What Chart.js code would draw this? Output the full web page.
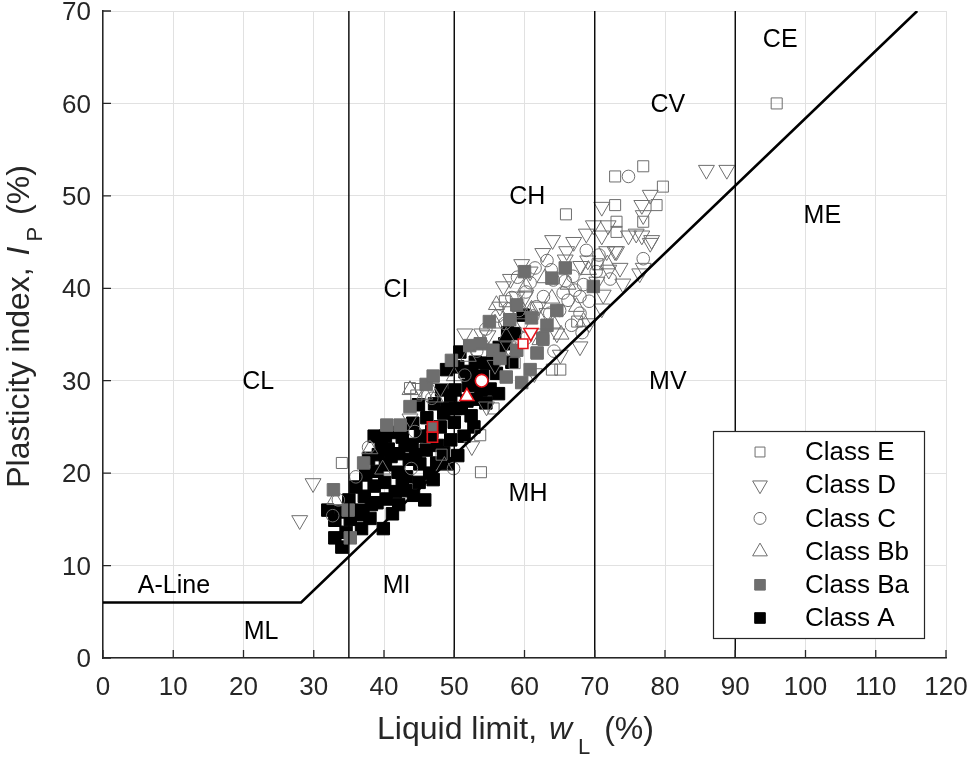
<!DOCTYPE html>
<html>
<head>
<meta charset="utf-8">
<script src="https://cdn.jsdelivr.net/npm/chart.js@4.4.0/dist/chart.umd.min.js"></script>
<style>
html, body { margin: 0; padding: 0; background: #fff; }
#wrap { position: relative; width: 969px; height: 758px; }
</style>
</head>
<body>
<div id="wrap"><canvas id="chart"></canvas></div>
<script>
// Plasticity chart: liquid limit (x) vs plasticity index (y)
const xTicks = [0, 10, 20, 30, 40, 50, 60, 70, 80, 90, 100, 110, 120];
const yTicks = [0, 10, 20, 30, 40, 50, 60, 70];

// Class E (open squares)
const classE_LL = [34.0, 43.7, 53.8, 53.7, 55.6, 61.7, 58.6, 63.9, 65.1, 65.9, 72.9, 76.9, 79.7, 72.9, 78.8, 73.1, 76.9, 73.1, 95.9, 62.7, 67.5, 70.4, 57.2, 48.2, 44.6];
const classE_PI = [21.1, 29.2, 20.1, 24.1, 27.0, 33.0, 31.9, 31.2, 31.2, 48.0, 52.1, 53.2, 51.0, 49.0, 49.0, 47.2, 47.2, 46.1, 60.0, 34.4, 36.4, 42.6, 38.6, 22.0, 28.4];

// Class D (open down triangles)
const classD_LL = [28.0, 29.9, 43.7, 45.1, 48.0, 51.5, 53.9, 54.8, 56.5, 55.8, 57.7, 58.9, 60.1, 60.8, 62.0, 62.4, 63.2, 64.6, 65.1, 67.9, 66.0, 65.8, 68.8, 69.8, 71.0, 71.0, 71.9, 71.7, 73.1, 74.8, 76.7, 77.9, 76.7, 77.9, 76.9, 76.4, 70.3, 71.2, 71.0, 85.9, 88.8, 52.5, 54.6, 72.9, 75.9, 78.1, 76.9, 59.8, 69.2, 68.0, 73.6, 61.4, 57.0, 58.0, 59.6, 62.6, 64.0, 67.0, 69.0, 72.0, 74.0];
const classD_PI = [14.9, 18.9, 25.9, 29.2, 29.2, 35.1, 35.1, 34.9, 38.0, 31.7, 33.7, 39.1, 39.1, 41.8, 38.0, 35.1, 37.3, 35.1, 32.8, 33.7, 44.0, 43.1, 45.9, 46.8, 48.8, 45.7, 46.8, 44.0, 44.0, 45.7, 45.7, 44.9, 49.0, 50.1, 47.9, 41.6, 40.7, 39.3, 37.8, 52.8, 52.8, 22.9, 27.2, 44.0, 45.9, 45.2, 42.2, 36.2, 36.2, 42.4, 42.2, 30.8, 40.2, 41.0, 42.6, 43.8, 45.2, 45.0, 43.0, 42.0, 40.5];

// Class C (open circles)
const classC_LL = [32.7, 33.5, 36.0, 37.8, 43.9, 44.4, 46.8, 49.9, 51.5, 53.2, 54.5, 56.2, 57.2, 58.2, 59.2, 60.2, 61.2, 61.7, 62.7, 63.6, 64.1, 65.5, 66.2, 66.7, 66.9, 67.2, 67.9, 67.9, 68.8, 61.5, 63.2, 60.2, 64.2, 68.2, 74.8, 76.9, 69.2, 65.0, 59.0, 70.6, 72.2, 57.8, 60.8, 63.8, 65.8, 68.4, 70.2];
const classC_PI = [15.4, 17.1, 19.6, 22.8, 20.5, 24.5, 28.1, 20.5, 30.6, 33.2, 35.6, 37.0, 36.2, 39.0, 37.6, 39.6, 37.0, 38.0, 39.1, 37.3, 40.9, 39.5, 38.7, 36.0, 41.3, 39.8, 39.1, 37.3, 44.1, 42.2, 43.0, 34.6, 33.2, 35.2, 52.1, 43.2, 38.6, 37.6, 41.2, 43.6, 41.0, 37.8, 40.6, 42.0, 40.8, 40.4, 41.8];

// Class Bb (open up triangles)
const classBb_LL = [33.0, 38.0, 43.7, 45.8, 47.3, 50.0, 52.0, 55.8, 56.0, 57.4, 59.4, 61.0, 62.9, 63.9, 64.1, 67.4, 69.1, 66.2, 60.2, 58.2, 65.2, 62.2, 54.2, 48.6, 68.4, 71.8, 39.8];
const classBb_PI = [17.1, 22.6, 29.0, 28.5, 28.2, 30.5, 32.6, 36.2, 38.2, 34.8, 38.0, 37.7, 41.1, 38.9, 36.2, 38.0, 42.0, 40.4, 40.2, 33.2, 35.0, 34.4, 34.0, 20.8, 36.4, 42.6, 20.4];

// Class Ba (grey filled squares)
const classBa_LL = [32.8, 35.2, 34.9, 37.1, 40.4, 42.3, 43.7, 46.0, 47.0, 49.6, 52.2, 53.7, 55.5, 56.5, 57.9, 58.9, 58.9, 60.8, 59.6, 61.8, 61.0, 63.2, 64.6, 63.9, 65.8, 69.8, 60.0, 57.4, 62.6, 55.0];
const classBa_PI = [18.2, 13.0, 16.0, 21.1, 25.2, 25.2, 27.2, 29.6, 30.5, 32.2, 33.8, 34.0, 33.3, 32.4, 36.6, 33.3, 38.2, 31.2, 29.8, 33.0, 36.8, 36.0, 37.6, 41.1, 42.2, 40.2, 41.8, 30.4, 34.6, 36.4];

// Class A (black filled squares)
const classA_LL = [32.0, 33.0, 33.0, 34.0, 33.8, 35.0, 35.2, 36.5, 36.8, 38.0, 39.9, 36.0, 37.2, 38.2, 38.6, 37.4, 39.0, 37.8, 39.2, 38.6, 40.2, 41.2, 40.6, 40.2, 40.1, 40.3, 41.2, 41.6, 42.1, 42.0, 42.1, 42.6, 43.1, 43.2, 43.6, 44.0, 44.1, 44.2, 45.0, 45.1, 45.2, 45.8, 46.0, 46.1, 46.5, 47.2, 47.5, 47.6, 48.0, 48.2, 48.5, 49.0, 48.9, 49.5, 50.0, 50.1, 50.5, 50.8, 51.0, 51.5, 51.4, 52.0, 52.4, 52.8, 53.0, 53.1, 54.0, 54.6, 54.5, 55.1, 55.5, 56.0, 56.3, 56.4, 57.2, 57.6, 58.6, 59.8, 58.2, 49.5, 46.8, 44.9, 53.5, 50.5, 34.6, 37.0, 39.0, 41.0, 43.0, 44.5, 46.5, 48.5, 47.0, 49.0, 51.8, 53.8, 52.5, 50.2, 39.6, 42.6];
const classA_PI = [16.0, 14.9, 13.0, 12.0, 15.8, 17.1, 15.0, 16.0, 14.0, 15.1, 14.0, 18.5, 17.5, 16.6, 18.6, 19.8, 20.2, 21.6, 22.0, 24.0, 24.0, 24.4, 22.6, 20.9, 19.0, 17.2, 15.6, 18.0, 16.6, 20.1, 22.1, 23.9, 18.1, 19.6, 21.5, 23.1, 25.4, 17.6, 19.0, 21.0, 24.0, 17.1, 22.5, 26.0, 20.0, 27.5, 21.1, 23.0, 25.0, 29.0, 22.2, 27.0, 31.2, 23.6, 25.5, 29.0, 21.9, 33.1, 27.0, 31.0, 24.0, 29.5, 26.2, 25.0, 32.0, 28.0, 30.5, 31.9, 27.6, 29.1, 32.1, 30.8, 28.6, 33.6, 34.0, 35.2, 35.1, 37.1, 32.0, 28.4, 24.5, 27.4, 30.0, 31.5, 13.6, 15.5, 16.8, 21.8, 23.0, 22.0, 24.0, 26.5, 19.3, 21.0, 27.8, 29.0, 30.8, 27.0, 23.2, 19.0];

// class means, order: E, D, C, Bb, Ba, A
const meanLL = [59.8, 60.9, 53.9, 51.8, 46.9, 46.9];
const meanPI = [34.0, 35.2, 30.0, 28.3, 25.0, 23.9];

// A-line and vertical zone boundaries
const aLineLL = [0, 28.2, 115.9];
const aLinePI = [6, 6, 70];
const boundLL = [35, 50, 70, 90];

// zone labels
const zoneNames = ['CL', 'CI', 'CH', 'CV', 'CE', 'ML', 'MI', 'MH', 'MV', 'ME', 'A-Line'];
const zoneLL = [22.1, 41.7, 60.4, 80.4, 96.4, 22.5, 41.8, 60.5, 80.4, 102.4, 10.1];
const zonePI = [29.8, 39.8, 49.9, 59.8, 66.8, 2.8, 7.8, 17.7, 29.8, 47.8, 7.8];

const FONT = '"Liberation Sans", Arial, Helvetica, sans-serif';
const GREY = '#6e6e6e';
const RED = '#e5131b';
const AXIS = '#262626';

Chart.defaults.font.family = FONT;

const pts = (ll, pi) => ll.map((v, i) => ({ x: v, y: pi[i] }));

function markerSet(label, ll, pi, style, opts) {
    return Object.assign({
        type: 'scatter',
        label: label,
        data: pts(ll, pi),
        pointStyle: style,
        pointRadius: 8,
        pointBorderWidth: 1,
        borderColor: GREY,
        backgroundColor: 'rgba(0,0,0,0)',
        pointRotation: 0
    }, opts);
}

const datasets = [
    markerSet('Class E', classE_LL, classE_PI, 'rect', { pointRadius: 7.8, legendRadius: 7, order: 2 }),
    markerSet('Class D', classD_LL, classD_PI, 'triangle', { pointRadius: 9.2, pointRotation: 180, legendRadius: 8.5, order: 3 }),
    markerSet('Class C', classC_LL, classC_PI, 'circle', { pointRadius: 6.3, legendRadius: 6, order: 4 }),
    markerSet('Class Bb', classBb_LL, classBb_PI, 'triangle', { pointRadius: 9.2, legendRadius: 8.5, order: 5 }),
    markerSet('Class Ba', classBa_LL, classBa_PI, 'rect', { pointRadius: 8.8, backgroundColor: GREY, legendRadius: 7.5, order: 6 }),
    markerSet('Class A', classA_LL, classA_PI, 'rect', { pointRadius: 8.8, backgroundColor: '#000', borderColor: '#000', legendRadius: 7.5, order: 7 })
];

// mean markers with red edges
const meanStyles = [
    { s: 'rect', r: 6.8, rot: 0, fill: '#fff' },
    { s: 'triangle', r: 8.2, rot: 180, fill: '#fff' },
    { s: 'circle', r: 6.3, rot: 0, fill: '#fff' },
    { s: 'triangle', r: 8.0, rot: 0, fill: '#fff' },
    { s: 'rect', r: 7.3, rot: 0, fill: GREY },
    { s: 'rect', r: 7.3, rot: 0, fill: '#000' }
];
meanLL.forEach((v, i) => {
    const m = meanStyles[i];
    datasets.push({
        type: 'scatter',
        label: 'mean' + i,
        data: [{ x: v, y: meanPI[i] }],
        pointStyle: m.s,
        pointRadius: m.r,
        pointRotation: m.rot,
        pointBorderWidth: 1.6,
        borderColor: RED,
        backgroundColor: m.fill,
        order: 0
    });
});

// A-line
datasets.push({
    type: 'scatter',
    label: 'A-line',
    data: pts(aLineLL, aLinePI),
    showLine: true,
    pointRadius: 0,
    borderColor: '#000',
    borderWidth: 2.6,
    order: 1
});

// vertical boundaries
boundLL.forEach(v => {
    datasets.push({
        type: 'scatter',
        label: 'LL ' + v,
        data: [{ x: v, y: yTicks[0] }, { x: v, y: yTicks[yTicks.length - 1] }],
        showLine: true,
        pointRadius: 0,
        borderColor: '#000',
        borderWidth: 1.4,
        order: 1
    });
});

function drawRuns(ctx, runs) {
    let pos = 0;
    runs.forEach(r => {
        ctx.font = r.font;
        pos += r.gap || 0;
        ctx.fillText(r.text, pos, r.dy || 0);
        pos += ctx.measureText(r.text).width;
    });
    return pos;
}

function runsWidth(ctx, runs) {
    let w = 0;
    runs.forEach(r => { ctx.font = r.font; w += (r.gap || 0) + ctx.measureText(r.text).width; });
    return w;
}

const overlay = {
    id: 'overlay',
    afterDraw(chart) {
        const { ctx, chartArea: a, scales: { x, y } } = chart;
        ctx.save();

        // inward tick marks
        ctx.strokeStyle = AXIS;
        ctx.lineWidth = 1.3;
        ctx.beginPath();
        x.ticks.forEach(t => {
            const px = x.getPixelForValue(t.value);
            ctx.moveTo(px, a.bottom);
            ctx.lineTo(px, a.bottom - 8);
        });
        y.ticks.forEach(t => {
            const py = y.getPixelForValue(t.value);
            ctx.moveTo(a.left, py);
            ctx.lineTo(a.left + 8, py);
        });
        ctx.stroke();

        // zone labels
        ctx.fillStyle = '#000';
        ctx.font = '25px ' + FONT;
        ctx.textAlign = 'center';
        ctx.textBaseline = 'middle';
        zoneNames.forEach((n, i) => {
            ctx.fillText(n, x.getPixelForValue(zoneLL[i]), y.getPixelForValue(zonePI[i]));
        });

        // axis titles
        ctx.fillStyle = AXIS;
        ctx.textAlign = 'left';
        ctx.textBaseline = 'alphabetic';
        const big = '32px ' + FONT;
        const bigIt = 'italic 32px ' + FONT;
        const sub = '22px ' + FONT;
        const xRuns = [
            { text: 'Liquid limit, ', font: big },
            { text: 'w', font: bigIt, gap: 3 },
            { text: 'L', font: sub, dy: 15, gap: 6 },
            { text: ' (%)', font: big, gap: 5 }
        ];
        const xw = runsWidth(ctx, xRuns);
        ctx.save();
        ctx.translate((a.left + a.right) / 2 - 9 - xw / 2, 739);
        drawRuns(ctx, xRuns);
        ctx.restore();

        const yRuns = [
            { text: 'Plasticity index, ', font: big },
            { text: 'I', font: bigIt, gap: 3 },
            { text: 'P', font: sub, dy: 13, gap: 5 },
            { text: ' (%)', font: big, gap: 3 }
        ];
        const yw = runsWidth(ctx, yRuns);
        ctx.save();
        ctx.translate(29, (a.top + a.bottom) / 2 + yw / 2 - 8);
        ctx.rotate(-Math.PI / 2);
        drawRuns(ctx, yRuns);
        ctx.restore();

        // legend box
        const bx = a.right - 233, by = a.bottom - 227, bw = 211, bh = 207;
        ctx.fillStyle = '#fff';
        ctx.fillRect(bx, by, bw, bh);
        ctx.strokeStyle = AXIS;
        ctx.lineWidth = 1.2;
        ctx.strokeRect(bx + 0.5, by + 0.5, bw, bh);
        ctx.font = '26px ' + FONT;
        ctx.textBaseline = 'middle';
        chart.data.datasets.filter(d => d.legendRadius).forEach((d, i) => {
            const cy = by + 21 + i * 33.2;
            ctx.fillStyle = d.backgroundColor;
            ctx.strokeStyle = d.borderColor;
            ctx.lineWidth = 1;
            ctx.beginPath();
            Chart.helpers.drawPoint(ctx, {
                pointStyle: d.pointStyle,
                rotation: d.pointRotation || 0,
                radius: d.legendRadius,
                borderWidth: 1
            }, bx + 47, cy);
            ctx.fillStyle = '#000';
            ctx.fillText(d.label, bx + 92, cy + 1);
        });

        ctx.restore();
    }
};

new Chart(document.getElementById('chart'), {
    type: 'scatter',
    data: { datasets: datasets },
    options: {
        responsive: true,
        maintainAspectRatio: false,
        animation: false,
        devicePixelRatio: 1,
        layout: { padding: { top: 11, right: 23, left: 0, bottom: 0 } },
        plugins: {
            legend: { display: false },
            tooltip: { enabled: false }
        },
        scales: {
            x: {
                type: 'linear',
                min: xTicks[0],
                max: xTicks[xTicks.length - 1],
                afterBuildTicks: s => { s.ticks = xTicks.map(v => ({ value: v })); },
                afterFit: s => { s.height = 100; s.paddingLeft = 0; s.paddingRight = 0; },
                grid: { color: '#e1e1e1', lineWidth: 1, drawTicks: false },
                border: { color: AXIS, width: 1.5 },
                ticks: { color: AXIS, padding: 14, maxRotation: 0, font: { size: 26 } }
            },
            y: {
                type: 'linear',
                min: yTicks[0],
                max: yTicks[yTicks.length - 1],
                afterBuildTicks: s => { s.ticks = yTicks.map(v => ({ value: v })); },
                afterFit: s => { s.width = 103; s.paddingTop = 0; s.paddingBottom = 0; },
                grid: { color: '#e1e1e1', lineWidth: 1, drawTicks: false },
                border: { color: AXIS, width: 1.5 },
                ticks: { color: AXIS, padding: 12, labelOffset: 2, font: { size: 26 } }
            }
        }
    },
    plugins: [overlay]
});
</script>
</body>
</html>
